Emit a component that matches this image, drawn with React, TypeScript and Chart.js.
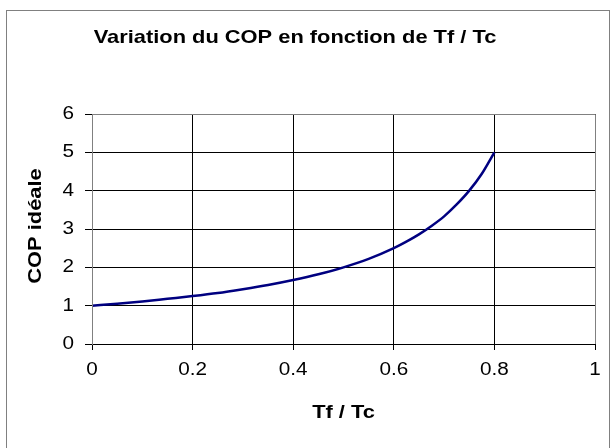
import React, { useEffect, useRef } from "react";
import { Chart, registerables } from "chart.js";

Chart.register(...registerables);

const chartTitle = "Variation du COP en fonction de Tf / Tc";
const xAxisTitle = "Tf / Tc";
const yAxisTitle = "COP idéale";

const tfTc = [
  0, 0.05, 0.1, 0.15, 0.2, 0.25, 0.3, 0.35, 0.4, 0.45, 0.5, 0.55, 0.6, 0.625, 0.65, 0.675, 0.7, 0.725, 0.75,
  0.775, 0.8,
];
const cop = [
  1, 1.05, 1.11, 1.18, 1.25, 1.33, 1.43, 1.54, 1.67, 1.82, 2, 2.22, 2.5, 2.67, 2.86, 3.08, 3.33, 3.64, 4, 4.44,
  5,
];

const xTicks = [0, 0.2, 0.4, 0.6, 0.8, 1];
const yTicks = [0, 1, 2, 3, 4, 5, 6];

const FONT = "'Liberation Sans', Arial, sans-serif";
const STRETCH = 1.15;

function drawText(
  ctx: CanvasRenderingContext2D,
  text: string,
  x: number,
  y: number,
  font: string,
  align: CanvasTextAlign,
  rot = 0
) {
  ctx.save();
  ctx.translate(x, y);
  if (rot) ctx.rotate(rot);
  ctx.scale(STRETCH, 1);
  ctx.font = font;
  ctx.textAlign = align;
  ctx.textBaseline = "middle";
  ctx.fillStyle = "#000";
  ctx.fillText(text, 0, 0);
  ctx.restore();
}

const decorPlugin = {
  id: "decor",
  beforeDraw(chart: any) {
    const ctx = chart.ctx;
    ctx.save();
    ctx.fillStyle = "#ffffff";
    ctx.fillRect(0, 0, chart.width, chart.height);
    ctx.strokeStyle = "#808080";
    ctx.lineWidth = 1;
    ctx.strokeRect(6.5, 10.5, 603, 450);
    ctx.restore();
  },
  afterDatasetsDraw(chart: any) {
    const ctx = chart.ctx;
    const a = chart.chartArea;
    ctx.save();
    ctx.strokeStyle = "#808080";
    ctx.lineWidth = 1;
    ctx.beginPath();
    ctx.moveTo(Math.round(a.left) + 0.5, Math.round(a.bottom));
    ctx.lineTo(Math.round(a.left) + 0.5, Math.round(a.top) + 0.5);
    ctx.lineTo(Math.round(a.right) + 0.5, Math.round(a.top) + 0.5);
    ctx.lineTo(Math.round(a.right) + 0.5, Math.round(a.bottom));
    ctx.stroke();
    ctx.restore();
  },
  afterDraw(chart: any) {
    const ctx = chart.ctx;
    const a = chart.chartArea;
    const xs = chart.scales.x;
    const ys = chart.scales.y;
    const tickFont = `18px ${FONT}`;
    const boldFont = `bold 19px ${FONT}`;
    xTicks.forEach((v) => {
      drawText(ctx, String(v), xs.getPixelForValue(v), 370, tickFont, "center");
    });
    yTicks.forEach((v) => {
      drawText(ctx, String(v), 74, ys.getPixelForValue(v), tickFont, "right");
    });
    drawText(ctx, chartTitle, 295, 38, boldFont, "center");
    drawText(ctx, xAxisTitle, (a.left + a.right) / 2, 413, boldFont, "center");
    drawText(ctx, yAxisTitle, 36, (a.top + a.bottom) / 2 - 3, boldFont, "center", -Math.PI / 2);
  },
};

export default function App() {
  const ref = useRef<HTMLCanvasElement | null>(null);
  useEffect(() => {
    if (!ref.current) return;
    const chart = new Chart(ref.current, {
      type: "scatter",
      data: {
        datasets: [
          {
            data: tfTc.map((x, i) => ({ x, y: cop[i] })),
            showLine: true,
            borderColor: "#000080",
            borderWidth: 2.5,
            pointRadius: 0,
            cubicInterpolationMode: "monotone",
            fill: false,
          },
        ],
      },
      options: {
        responsive: false,
        animation: false,
        layout: { padding: { left: 0, right: 17, top: 114, bottom: 0 } },
        plugins: { legend: { display: false }, tooltip: { enabled: false }, title: { display: false } },
        scales: {
          x: {
            type: "linear",
            min: 0,
            max: 1,
            afterBuildTicks: (s: any) => {
              s.ticks = xTicks.map((v) => ({ value: v }));
            },
            afterFit: (s: any) => {
              s.height = 104;
            },
            ticks: { display: false },
            grid: { color: "#000", lineWidth: 1, tickLength: 6, drawTicks: true },
            border: { color: "#000", width: 1 },
          },
          y: {
            type: "linear",
            min: 0,
            max: 6,
            afterBuildTicks: (s: any) => {
              s.ticks = yTicks.map((v) => ({ value: v }));
            },
            afterFit: (s: any) => {
              s.width = 92;
            },
            ticks: { display: false },
            grid: { color: "#000", lineWidth: 1, tickLength: 7, drawTicks: true },
            border: { color: "#808080", width: 1 },
          },
        },
      },
      plugins: [decorPlugin],
    });
    return () => chart.destroy();
  }, []);
  return (
    <div style={{ position: "fixed", left: 0, top: 0, width: 612, height: 448, background: "#fff" }}>
      <canvas ref={ref} width={612} height={448} style={{ display: "block" }} />
    </div>
  );
}
